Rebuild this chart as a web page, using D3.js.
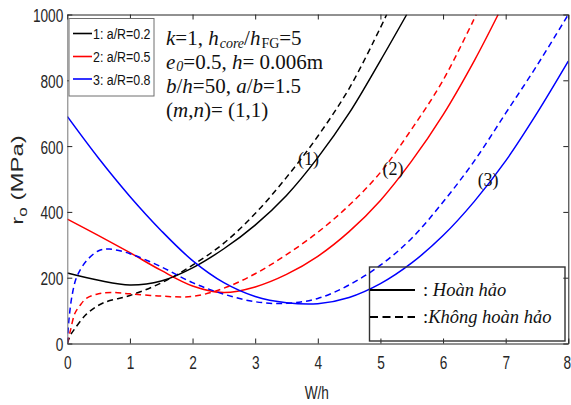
<!DOCTYPE html>
<html>
<head>
<meta charset="utf-8">
<script src="https://cdn.jsdelivr.net/npm/d3@7"></script>
<style>
  html, body { margin: 0; padding: 0; background: #fff; }
  svg { display: block; }
</style>
</head>
<body>
<svg id="chart" width="571" height="405"></svg>
<script>
// W/h values and r0 (MPa) for each a/R ratio; "perf" = perfect plate, "imp" = imperfect plate
const xTicks = [0, 1, 2, 3, 4, 5, 6, 7, 8];
const yTicks = [0, 200, 400, 600, 800, 1000];

const perf1 = [[0,214],[0.5,192],[1,178],[1.5,190],[2,230],[2.5,288],[3,360],[3.5,450],[4,565],[4.5,700],[5,860],[5.42,1000]];
const imp1  = [[0,0],[0.05,25],[0.12,45],[0.31,90],[0.57,123],[1,146],[1.5,184],[2,238],[2.5,305],[3,395],[3.5,505],[4,630],[4.5,775],[5,960],[5.1,1000]];

const perf2 = [[0,378],[0.5,328],[1,276],[1.5,222],[2,175],[2.5,155],[3,172],[3.5,210],[4,265],[4.5,340],[5,435],[5.5,555],[6,695],[6.5,860],[6.88,1000]];
const imp2  = [[0,0],[0.05,40],[0.12,91],[0.2,115],[0.31,138],[0.5,151],[0.7,155],[1,151],[1.5,144],[2,143],[2.5,168],[3,212],[3.5,270],[4,338],[4.5,420],[5,520],[5.5,652],[6,800],[6.53,1000]];

const perf3 = [[0,690],[0.5,563],[1,447],[1.5,343],[2,252],[2.5,185],[3,143],[3.5,124],[4,121],[4.5,140],[5,182],[5.5,245],[6,328],[6.5,432],[7,555],[7.5,700],[8,858]];
const imp3  = [[0,0],[0.03,80],[0.08,150],[0.15,202],[0.3,250],[0.5,282],[0.67,287],[1,273],[1.5,233],[2,185],[2.5,150],[3,127],[3.5,122],[4,137],[4.5,178],[5,238],[5.5,320],[6,430],[6.5,555],[7,700],[7.5,845],[8,1000]];

const seriesNames = ["1: a/R=0.2", "2: a/R=0.5", "3: a/R=0.8"];
const seriesColors = ["#000000", "#ff0000", "#0000ff"];
const curveTags = ["(1)", "(2)", "(3)"];
const curveTagPos = [[3.85, 560], [5.2, 530], [6.72, 497]];
const styleNames = ["Hoàn hảo", "Không hoàn hảo"];

const svg = d3.select("#chart");
const x = d3.scaleLinear().domain([0, 8]).range([67.3, 568.3]);
const y = d3.scaleLinear().domain([0, 1000]).range([343.5, 14.5]);

const sx = 0.72; // narrow sans labels

// clip for curves
svg.append("defs").append("clipPath").attr("id", "plotClip")
  .append("rect").attr("x", x(0)).attr("y", y(1000))
  .attr("width", x(8) - x(0)).attr("height", y(0) - y(1000));

// curves
const line = d3.line().x(d => x(d[0])).y(d => y(d[1])).curve(d3.curveCatmullRom.alpha(0.5));
const curves = svg.append("g").attr("clip-path", "url(#plotClip)");
const perfect = [perf1, perf2, perf3];
const imperfect = [imp1, imp2, imp3];
perfect.forEach((s, i) => {
  curves.append("path").attr("d", line(s)).attr("fill", "none")
    .attr("stroke", seriesColors[i]).attr("stroke-width", 1.5);
});
imperfect.forEach((s, i) => {
  curves.append("path").attr("d", line(s)).attr("fill", "none")
    .attr("stroke", seriesColors[i]).attr("stroke-width", 1.5)
    .attr("stroke-dasharray", "6,4");
});

// axes
const axFont = "'Liberation Sans', Arial, sans-serif";
const axBottom = svg.append("g").attr("transform", `translate(0,${y(0)})`)
  .call(d3.axisBottom(x).tickValues(xTicks).tickSize(-5).tickSizeOuter(0).tickFormat(d3.format("d")));
const axLeft = svg.append("g").attr("transform", `translate(${x(0)},0)`)
  .call(d3.axisLeft(y).tickValues(yTicks).tickSize(-5).tickSizeOuter(0).tickFormat(d3.format("d")));
const axTop = svg.append("g").attr("transform", `translate(0,${y(1000)})`)
  .call(d3.axisTop(x).tickValues(xTicks).tickSize(-5).tickSizeOuter(0).tickFormat(""));
const axRight = svg.append("g").attr("transform", `translate(${x(8)},0)`)
  .call(d3.axisRight(y).tickValues(yTicks).tickSize(-5).tickSizeOuter(0).tickFormat(""));

[axBottom, axLeft, axTop, axRight].forEach(g => {
  g.selectAll(".domain").attr("stroke", "#222").attr("stroke-width", 1);
  g.selectAll(".tick line").attr("stroke", "#222").attr("stroke-width", 1);
});
axLeft.select(".domain").attr("stroke", "#777");

axBottom.selectAll(".tick text")
  .attr("y", 0).attr("dy", 0)
  .attr("transform", (d) => `translate(${d === 8 ? -1.5 : 0},25) scale(${sx},1)`)
  .attr("font-family", axFont).attr("font-size", 19).attr("fill", "#262626")
  .attr("text-anchor", "middle");
axLeft.selectAll(".tick text")
  .attr("x", 0).attr("dy", 0)
  .attr("transform", `translate(-4,7) scale(${sx},1)`)
  .attr("font-family", axFont).attr("font-size", 19).attr("fill", "#262626")
  .attr("text-anchor", "end");

// axis titles
svg.append("text")
  .attr("transform", `translate(${(x(0) + x(8)) / 2 - 1},399) scale(${sx},1)`)
  .attr("text-anchor", "middle").attr("font-family", axFont).attr("font-size", 19)
  .attr("fill", "#262626").text("W/h");

const yl = svg.append("text")
  .attr("transform", `translate(23,180) scale(${sx},1) rotate(-90)`)
  .attr("text-anchor", "middle").attr("font-family", axFont).attr("font-size", 24)
  .attr("fill", "#262626");
yl.append("tspan").text("r");
yl.append("tspan").attr("font-size", 17).attr("dy", 6).text("o");
yl.append("tspan").attr("dy", -6).text(" (MPa)");

// series legend (top-left)
const lg = svg.append("g");
lg.append("rect").attr("x", 69).attr("y", 18.5).attr("width", 85).attr("height", 77.5)
  .attr("fill", "#fff").attr("stroke", "#6e6e6e").attr("stroke-width", 1);
seriesNames.forEach((n, i) => {
  const yy = [33.5, 56.5, 79][i];
  lg.append("line").attr("x1", 73).attr("x2", 92).attr("y1", yy).attr("y2", yy)
    .attr("stroke", seriesColors[i]).attr("stroke-width", 1.6);
  lg.append("text").attr("transform", `translate(93,${yy + 5.5}) scale(0.8,1)`)
    .attr("font-family", axFont).attr("font-size", 15.5).attr("fill", "#111").text(n);
});

// parameter annotation
const serif = "'Liberation Serif', 'Times New Roman', serif";
const ann = svg.append("g").attr("font-family", serif).attr("font-size", 21).attr("fill", "#111");
function addLine(yb, parts) {
  const t = ann.append("text").attr("x", 166).attr("y", yb);
  parts.forEach(p => {
    const s = t.append("tspan").text(p.t);
    if (p.i) s.attr("font-style", "italic");
    if (p.sub) s.attr("font-size", 14).attr("baseline-shift", p.sub === 2 ? "-2" : "-3").attr("dx", 1);
  });
}
addLine(45, [{t: "k", i: 1}, {t: "=1, "}, {t: "h", i: 1}, {t: "core", i: 1, sub: 1},
             {t: "/"}, {t: "h", i: 1}, {t: "FG", sub: 1}, {t: "=5"}]);
addLine(69, [{t: "e", i: 1}, {t: "0", i: 1, sub: 2}, {t: "=0.5, "}, {t: "h", i: 1}, {t: "= 0.006m"}]);
addLine(93, [{t: "b", i: 1}, {t: "/"}, {t: "h", i: 1}, {t: "=50, "}, {t: "a", i: 1}, {t: "/"}, {t: "b", i: 1}, {t: "=1.5"}]);
addLine(116.5, [{t: "("}, {t: "m", i: 1}, {t: ","}, {t: "n", i: 1}, {t: ")= (1,1)"}]);

// curve tags
curveTags.forEach((c, i) => {
  svg.append("text").attr("x", x(curveTagPos[i][0])).attr("y", y(curveTagPos[i][1]) + 6)
    .attr("text-anchor", "middle").attr("font-family", serif).attr("font-size", 18)
    .attr("fill", "#111").text(c);
});

// line-style legend (bottom-right)
const lg2 = svg.append("g");
lg2.append("rect").attr("x", 369.5).attr("y", 267).attr("width", 195.5).attr("height", 74)
  .attr("fill", "none").attr("stroke", "#333").attr("stroke-width", 1.4);
[290, 317].forEach((yy, i) => {
  lg2.append("line").attr("x1", 370).attr("x2", 415).attr("y1", yy).attr("y2", yy)
    .attr("stroke", "#000").attr("stroke-width", 2)
    .attr("stroke-dasharray", i ? "8,4.5" : null);
  const t = lg2.append("text").attr("x", 423).attr("y", yy + 6)
    .attr("font-family", serif).attr("font-size", 18.5).attr("fill", "#111");
  t.append("tspan").text(i ? ":" : ": ");
  t.append("tspan").attr("font-style", "italic").text(styleNames[i]);
});
</script>
</body>
</html>
